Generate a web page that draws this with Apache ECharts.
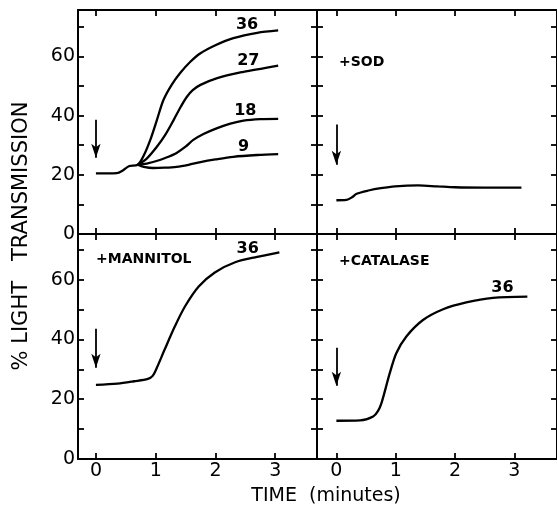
<!DOCTYPE html>
<html>
<head>
<meta charset="utf-8">
<script src="https://cdn.jsdelivr.net/npm/echarts@6/dist/echarts.min.js"></script>
<style>html,body{margin:0;padding:0;background:#fff}#c{width:557px;height:508px}</style>
</head>
<body>
<div id="c"></div>
<script>
// ---- data ----
const timeTicks = [0, 1, 2, 3];
const yMinorTicks = [10, 20, 30, 40, 50, 60, 70];
const yTickLabels = [0, 20, 40, 60];

// control panel (no additions), concentrations 36, 27, 18, 9
const ctrlBase = [[0, 20.5], [0.35, 20.6], [0.45, 21.5], [0.55, 22.9], [0.7, 23.4]];
const ctrl36 = [[0.8, 26.5], [0.91, 31.8], [1.02, 38.5], [1.13, 45.3], [1.27, 50.5], [1.41, 54.4], [1.58, 58.2], [1.75, 61.1], [2.0, 63.8], [2.3, 66.2], [2.7, 68.0], [3.05, 68.8]];
const ctrl27 = [[0.85, 25.5], [1.02, 29.5], [1.16, 33.5], [1.30, 38.5], [1.42, 43.0], [1.52, 46.3], [1.62, 48.6], [1.75, 50.4], [2.03, 52.7], [2.47, 54.8], [2.8, 56.0], [3.05, 56.9]];
const ctrl18 = [[0.85, 23.8], [1.07, 25.0], [1.2, 26.0], [1.35, 27.4], [1.5, 29.5], [1.63, 31.8], [1.8, 33.8], [2.03, 35.8], [2.25, 37.3], [2.47, 38.3], [2.75, 38.8], [3.05, 38.9]];
const ctrl9 = [[0.8, 22.7], [0.96, 22.3], [1.15, 22.4], [1.35, 22.7], [1.55, 23.4], [1.75, 24.3], [2.0, 25.2], [2.3, 26.1], [2.7, 26.7], [3.05, 27.0]];
const sod = [[0, 11.4], [0.17, 11.5], [0.27, 12.5], [0.34, 13.6], [0.54, 14.7], [0.75, 15.5], [0.99, 16.1], [1.38, 16.4], [1.7, 16.1], [2.0, 15.8], [2.5, 15.7], [3.12, 15.7]];
const mannitol = [[0, 24.8], [0.36, 25.2], [0.64, 26.0], [0.87, 26.8], [0.95, 27.8], [1.02, 30.5], [1.15, 36.6], [1.32, 44.3], [1.49, 51.0], [1.72, 57.7], [1.99, 62.4], [2.33, 65.8], [2.7, 67.6], [3.07, 69.1]];
const catalase = [[0, 12.8], [0.4, 12.9], [0.62, 14.2], [0.7, 16.0], [0.76, 18.7], [0.9, 28.7], [1.01, 35.4], [1.18, 41.0], [1.46, 46.5], [1.8, 50.1], [2.19, 52.4], [2.64, 53.9], [3.22, 54.3]];

// addition arrows (time, from y, to y) per panel
const arrows = [[0, 38.6, 25.8], [0, 37.0, 23.4], [0, 43.6, 30.5], [0, 37.2, 24.5]];
// curve labels: [panel, text, x, y]
const curveLabels = [
  [0, '36', 2.53, 70.6], [0, '27', 2.55, 58.6], [0, '18', 2.5, 41.5], [0, '9', 2.47, 29.6],
  [2, '36', 2.54, 70.3], [3, '36', 2.8, 57.4]
];
const panelNames = ['', '+SOD', '+MANNITOL', '+CATALASE'];

// ---- layout ----
const grids = [
  {left: 78, top: 10, width: 239, height: 224},
  {left: 317, top: 10, width: 241, height: 224},
  {left: 78, top: 234, width: 239, height: 225},
  {left: 317, top: 234, width: 241, height: 225}
];
const xRange = [[-0.3, 3.7], [-0.327, 3.72], [-0.3, 3.7], [-0.327, 3.72]];
const yMax = [75.7, 75.7, 75.25, 75.25];

const FONT = 'DejaVu Sans';
const axLine = {show: true, onZero: false, lineStyle: {color: '#000', width: 2}};
const tickStyle = {color: '#000', width: 1.8};

const xAxes = [], yAxes = [];
grids.forEach((g, i) => {
  ['bottom', 'top'].forEach(pos => {
    xAxes.push({
      type: 'value', gridIndex: i, position: pos, min: xRange[i][0], max: xRange[i][1],
      axisLine: axLine,
      axisTick: {show: true, inside: true, length: 6, lineStyle: tickStyle, customValues: timeTicks},
      axisLabel: {show: pos === 'bottom' && i >= 2, customValues: timeTicks, color: '#000',
        fontFamily: FONT, fontSize: 19, margin: 3},
      splitLine: {show: false}
    });
  });
  ['left', 'right'].forEach(pos => {
    yAxes.push({
      type: 'value', gridIndex: i, position: pos, min: 0, max: yMax[i],
      axisLine: axLine,
      axisTick: {show: true, inside: true, length: 6, lineStyle: tickStyle, customValues: yMinorTicks},
      axisLabel: {show: pos === 'left' && (i === 0 || i === 2), customValues: yTickLabels, color: '#000',
        fontFamily: FONT, fontSize: 19, margin: 3},
      splitLine: {show: false}
    });
  });
});

function lineSeries(panel, data, extra) {
  return Object.assign({
    type: 'line', xAxisIndex: panel * 2, yAxisIndex: panel * 2, data: data,
    smooth: 0.3, showSymbol: false, symbol: 'none', silent: true,
    lineStyle: {color: '#000', width: 2.3}, animation: false
  }, extra || {});
}

function arrowLine(panel) {
  const a = arrows[panel];
  return {
    silent: true, animation: false, symbol: ['none', 'arrow'], symbolSize: [7, 14],
    label: {show: false},
    lineStyle: {color: '#000', width: 1.8, type: 'solid'},
    data: [[{coord: [a[0], a[1]]}, {coord: [a[0], a[2]]}]]
  };
}

function labelPoints(panel) {
  return {
    silent: true, animation: false, symbol: 'circle', symbolSize: 0,
    label: {show: true, position: 'inside', color: '#000', fontFamily: FONT, fontSize: 16,
      fontWeight: 'bold', formatter: p => p.name},
    data: curveLabels.filter(c => c[0] === panel).map(c => ({name: c[1], coord: [c[2], c[3]]}))
  };
}

const series = [
  lineSeries(0, ctrlBase.concat(ctrl36), {markLine: arrowLine(0), markPoint: labelPoints(0)}),
  lineSeries(0, ctrlBase.slice(-1).concat(ctrl27)),
  lineSeries(0, ctrlBase.slice(-1).concat(ctrl18)),
  lineSeries(0, ctrlBase.slice(-1).concat(ctrl9)),
  lineSeries(1, sod, {markLine: arrowLine(1)}),
  lineSeries(2, mannitol, {markLine: arrowLine(2), markPoint: labelPoints(2)}),
  lineSeries(3, catalase, {markLine: arrowLine(3), markPoint: labelPoints(3)})
];

const panelLabelPos = [null, [339, 55], [96, 252], [339, 254]];
const graphic = [];
panelNames.forEach((t, i) => {
  if (!t) return;
  graphic.push({type: 'text', left: panelLabelPos[i][0], top: panelLabelPos[i][1],
    style: {text: t, fill: '#000', font: 'bold 14px "DejaVu Sans"'}});
});
graphic.push({type: 'text', x: 22, y: 236, rotation: Math.PI / 2,
  style: {text: '% LIGHT   TRANSMISSION', fill: '#000', font: '21px "DejaVu Sans"',
    textAlign: 'center', textVerticalAlign: 'middle'}});
graphic.push({type: 'text', x: 326, y: 496,
  style: {text: 'TIME  (minutes)', fill: '#000', font: '19px "DejaVu Sans"',
    textAlign: 'center', textVerticalAlign: 'middle'}});

const chart = echarts.init(document.getElementById('c'), null, {renderer: 'canvas'});
chart.setOption({
  animation: false,
  backgroundColor: '#fff',
  grid: grids,
  xAxis: xAxes,
  yAxis: yAxes,
  series: series,
  graphic: graphic
});
</script>
</body>
</html>
